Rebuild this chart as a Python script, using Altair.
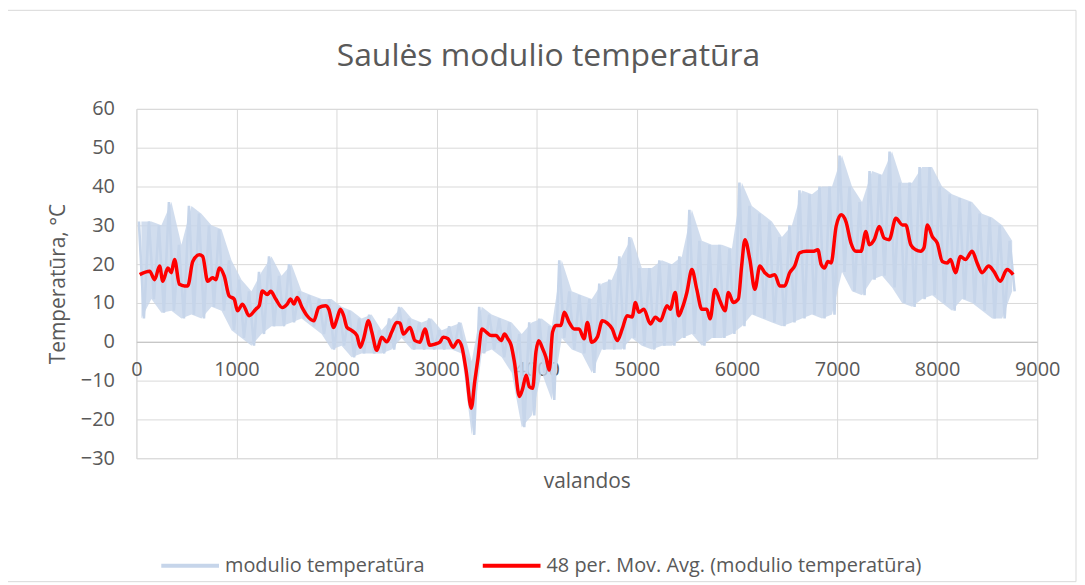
import altair as alt
import pandas as pd

# --- data ---
# hourly module temperature: per-100-hour block, max and min of the band
blk_start = list(range(0, 8800, 100))
blk_hi = [31, 31, 30, 36, 25, 35, 33, 30, 29, 21,
          16, 13, 18, 22, 17, 20, 13, 12, 11, 11,
          9, 8, 6, 7, 3, 6, 9, 6, 5, 6,
          3, 4, 5, -5, 9, 7, 6, 5, 2, 5,
          6, 4, 21, 13, 12, 11, 15, 16, 22, 27,
          19, 19, 21, 20, 22, 34, 26, 25, 25, 24,
          41, 35, 33, 31, 27, 30, 39, 38, 40, 40,
          48, 40, 36, 44, 43, 49, 41, 41, 45, 45,
          40, 38, 37, 36, 33, 32, 30, 26]
blk_lo = [6, 11, 7.5, 8, 6, 7, 6, 9, 8, 3,
          1, -1, 2, 4, 4, 5, 6, 4, 2, -2,
          -1, -4, -3, -3, -3, -2, 1, -2, -2, -2,
          -2, -2, -3, -24, -3, -2, -4, -8, -22, -19,
          -8, -15, 1, -2, -3, -8, -2, -2, -2, 1,
          -1, -2, -1, -1, 1, 2, -1, 1, 1, 2,
          4, 7, 6, 5, 4, 5, 6, 7, 6, 7,
          18, 13, 12, 16, 17, 14, 10, 9, 11, 12,
          10, 8, 11, 10, 8, 6, 6, 13]

# 48 per. moving average (red)
ma_hours = [33, 132, 182, 232, 264, 314, 348, 381, 430, 480, 513, 563, 629, 662, 712, 761,
            795, 828, 878, 927, 977, 1010, 1060, 1126, 1193, 1227, 1258, 1308, 1342, 1392,
            1457, 1507, 1541, 1574, 1606, 1656, 1706, 1772, 1822, 1889, 1922, 1971, 2004,
            2038, 2071, 2104, 2153, 2203, 2237, 2270, 2319, 2352, 2402, 2451, 2501, 2551,
            2600, 2634, 2667, 2734, 2783, 2833, 2883, 2932, 2982, 3032, 3065, 3114, 3164,
            3214, 3247, 3296, 3346, 3380, 3413, 3452, 3495, 3545, 3594, 3644, 3678, 3710,
            3744, 3777, 3827, 3860, 3894, 3926, 3959, 3992, 4019, 4059, 4091, 4125, 4158,
            4191, 4241, 4275, 4324, 4374, 4423, 4473, 4506, 4549, 4605, 4655, 4705, 4754,
            4804, 4854, 4903, 4953, 4986, 5020, 5070, 5135, 5185, 5235, 5302, 5334, 5384,
            5417, 5450, 5500, 5550, 5599, 5649, 5699, 5732, 5781, 5831, 5881, 5915, 5964,
            6014, 6047, 6080, 6129, 6179, 6229, 6279, 6329, 6378, 6428, 6477, 6527, 6577,
            6626, 6693, 6759, 6809, 6842, 6875, 6909, 6941, 6991, 7041, 7090, 7140, 7190,
            7239, 7289, 7322, 7372, 7422, 7471, 7521, 7588, 7654, 7687, 7737, 7787, 7836,
            7869, 7903, 7952, 8002, 8052, 8101, 8134, 8184, 8233, 8283, 8350, 8400, 8449,
            8515, 8565, 8632, 8698, 8760]
ma_temps = [17.3, 18.2, 16, 19.5, 15.6, 19, 17.8, 21.2, 14.8, 14.4, 14.4, 20.7, 22.4, 22, 15.6, 16.5,
            16, 19, 16.9, 11.8, 11, 8, 9.7, 6.7, 8.4, 9.3, 13.1, 12.2, 13, 11,
            8.8, 9.7, 11, 9.7, 11.4, 8.8, 6.7, 5.4, 8.8, 9.3, 8.4, 3.7, 5.9,
            8.4, 6.7, 3.7, 2.9, 1.6, -1.4, 0.8, 5.4, 2.5, -2.2, 1.2, 0, 2.5,
            5, 4.8, 2, 3.7, 0.3, -0.1, 3.3, -0.9, -0.6, -0.1, 1.2, 0.8, -1.4,
            0.3, -0.9, -7.7, -17.1, -10.3, -4.3, 3.3, 2.5, 1.6, 1.6, 0.3, 2, 0.8,
            -0.9, -5.2, -14.1, -12, -8.6, -11.6, -12, -2.6, 0.3, -1.8, -3.9, -7.3, 2.5,
            4.2, 4.2, 7.6, 5, 3.3, 3.3, 0.8, 5, -0.1, 1.2, 5.4, 4.8, 3.3,
            0.3, 3.3, 6.7, 6.4, 10.1, 7.6, 8.4, 4.6, 6.3, 5.4, 9.3, 8.4, 12.7,
            6.7, 8.4, 12.7, 18.6, 13.5, 8.4, 8.4, 5.9, 13.5, 10.5, 8, 12.7, 10.1,
            11, 19.5, 26.3, 21.2, 13.5, 19.5, 17.8, 16.9, 17.3, 14.4, 14.4, 17.8, 19.5,
            22.9, 23.3, 23.3, 23.7, 19.9, 19, 20.7, 20.3, 29.7, 32.7, 30.9, 25.4, 23.3,
            23.3, 28.4, 25, 26.3, 29.7, 26.7, 26.3, 31.8, 30.1, 30.1, 25, 23.7, 23.3,
            24.2, 30.1, 27.1, 25.4, 20.7, 20.3, 21.2, 17.8, 22, 21.2, 23.3, 20.3, 17.8,
            19.5, 18.2, 15.6, 18.6, 17.3]

x_ticks = [0, 1000, 2000, 3000, 4000, 5000, 6000, 7000, 8000, 9000]
y_ticks = [-30, -20, -10, 0, 10, 20, 30, 40, 50, 60]

S_RAW = "modulio temperatūra"
S_MA = "48 per. Mov. Avg. (modulio temperatūra)"

# build tables
raw_rows = []
for s, hi, lo in zip(blk_start, blk_hi, blk_lo):
    raw_rows.append({"hour": s + 25, "temp": hi, "series": S_RAW})
    raw_rows.append({"hour": s + 75, "temp": lo, "series": S_RAW})
raw_df = pd.DataFrame(raw_rows)
band_df = pd.DataFrame({"hour": [s + 50 for s in blk_start], "hi": blk_hi, "lo": blk_lo})
ma_df = pd.DataFrame({"hour": ma_hours, "temp": ma_temps, "series": S_MA})

W, H = 905, 351
FONT = "Open Sans"
TXT = "#595959"
BLUE = "#C6D5EA"

color = alt.Color(
    "series:N",
    scale=alt.Scale(domain=[S_RAW, S_MA], range=[BLUE, "#FF0000"]),
    legend=alt.Legend(
        orient="none", legendX=23, legendY=428, direction="horizontal", title=None,
        symbolType="stroke", symbolSize=3364, symbolStrokeWidth=4,
        labelFontSize=20, labelFont=FONT, labelColor=TXT, labelOffset=4,
        columnPadding=50, labelLimit=600,
    ),
)

xscale = alt.Scale(domain=[0, 9000], nice=False)
yscale = alt.Scale(domain=[-30, 60], nice=False)

xenc = alt.X(
    "hour:Q",
    scale=xscale,
    axis=alt.Axis(
        values=x_ticks, tickCount=20, format="d", title="valandos", offset=-117,
        grid=True, gridColor="#D9D9D9", domainColor="#BFBFBF", domainWidth=1,
        ticks=False, labelPadding=18, labelFontSize=20, labelFont=FONT, labelColor=TXT,
        titleFontSize=21, titleFont=FONT, titleColor=TXT, titleFontWeight="normal",
        titleY=140, titleBaseline="middle", labelFlush=False, labelOverlap=False,
    ),
)
yenc = alt.Y(
    "temp:Q",
    scale=yscale,
    axis=alt.Axis(
        values=y_ticks, tickCount=20, title="Temperatūra, °C", grid=True, gridColor="#D9D9D9",
        domain=False, ticks=False, labelPadding=22, labelFontSize=20, labelFont=FONT,
        labelColor=TXT, titleFontSize=21, titleFont=FONT, titleColor=TXT,
        titleFontWeight="normal", titlePadding=12, labelOverlap=False,
    ),
)

band = alt.Chart(band_df).mark_area(color=BLUE, opacity=0.8, interpolate="linear").encode(
    x=alt.X("hour:Q", scale=xscale), y=alt.Y("hi:Q", scale=yscale), y2="lo:Q"
)
raw_line = alt.Chart(raw_df).mark_line(strokeWidth=2.6, interpolate="linear").encode(
    x=xenc, y=yenc, color=color
)
ma_line = alt.Chart(ma_df).mark_line(strokeWidth=3.5, interpolate="monotone").encode(
    x="hour:Q", y="temp:Q", color=alt.Color("series:N")
)

title_txt = alt.Chart(pd.DataFrame({"t": ["Saulės modulio temperatūra"]})).mark_text(
    fontSize=32, font=FONT, color=TXT, align="center", baseline="middle"
).encode(x=alt.value(414), y=alt.value(-53), text="t:N")

border = alt.Chart(pd.DataFrame({"a": [0]})).mark_rect(
    fill=None, stroke="#D9D9D9", strokeWidth=1, clip=False
).encode(x=alt.value(-133), x2=alt.value(944), y=alt.value(-99), y2=alt.value(475))

chart = alt.layer(border, raw_line, band, ma_line, title_txt).properties(
    width=W, height=H,
    autosize=alt.AutoSizeParams(type="none"),
    padding={"left": 129, "top": 100, "right": 40, "bottom": 125},
).configure_view(stroke=None).configure(background="white")

chart.save("out.html", embed_options={"renderer": "svg", "actions": False})
